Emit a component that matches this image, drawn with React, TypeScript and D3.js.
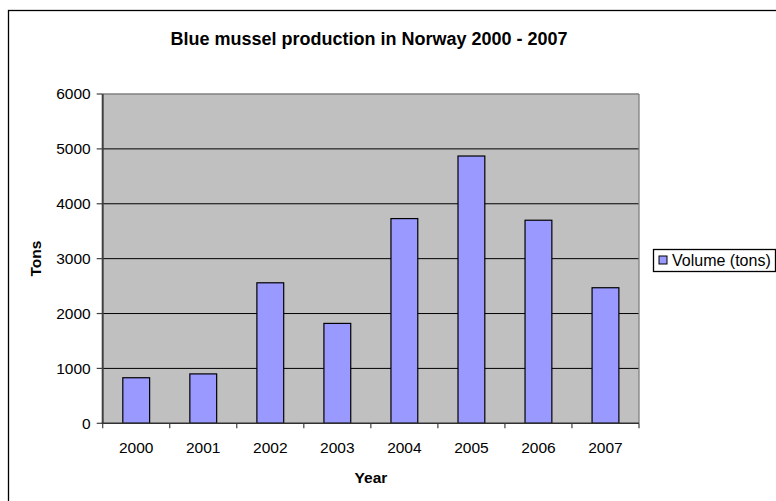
import React from "react";
import * as d3 from "d3";

const years = ["2000", "2001", "2002", "2003", "2004", "2005", "2006", "2007"];
const volume = [830, 900, 2560, 1820, 3730, 4870, 3700, 2470];
const yTicks = [0, 1000, 2000, 3000, 4000, 5000, 6000];

const W = 776;
const H = 501;
const plot = { left: 102.7, right: 639, top: 94, bottom: 423.3 };
const font = "Arial, 'Liberation Sans', Helvetica, sans-serif";

export default function App() {
  const x = d3.scaleBand<string>()
    .domain(years)
    .range([plot.left, plot.right])
    .paddingInner(0.6)
    .paddingOuter(0.3);
  const y = d3.scaleLinear().domain([0, 6000]).range([plot.bottom, plot.top]);
  const bounds = d3.scaleLinear().domain([0, years.length]).range([plot.left, plot.right]);

  return (
    <svg width={W} height={H} style={{ position: "absolute", left: 0, top: 0, background: "#fff" }}
      fontFamily={font}>
      {/* chart frame, runs past the right and bottom edges */}
      <rect x={8.5} y={10.5} width={820} height={520} fill="#fff" stroke="#000" strokeWidth={1.3} />

      <text x={369} y={45} textAnchor="middle" fontSize={18} fontWeight="bold">
        Blue mussel production in Norway 2000 - 2007
      </text>

      <rect x={plot.left} y={plot.top} width={plot.right - plot.left} height={plot.bottom - plot.top}
        fill="#c0c0c0" />
      {yTicks.slice(1, -1).map(t => (
        <line key={t} x1={plot.left} x2={plot.right} y1={y(t)} y2={y(t)} stroke="#000" strokeWidth={1} />
      ))}
      <line x1={plot.left} x2={plot.right} y1={plot.top} y2={plot.top} stroke="#808080" strokeWidth={1.3} />
      <line x1={plot.right} x2={plot.right} y1={plot.top} y2={plot.bottom} stroke="#808080" strokeWidth={1.3} />

      {volume.map((v, i) => (
        <rect key={years[i]} x={x(years[i])} y={y(v)} width={x.bandwidth()} height={y(0) - y(v)}
          fill="#9999ff" stroke="#000" strokeWidth={1.2} />
      ))}

      {/* y axis */}
      <line x1={plot.left} x2={plot.left} y1={plot.top} y2={plot.bottom} stroke="#404040" strokeWidth={2} />
      {yTicks.map(t => (
        <g key={t}>
          <line x1={plot.left - 6} x2={plot.left} y1={y(t)} y2={y(t)} stroke="#404040" strokeWidth={1.2} />
          <text x={plot.left - 12} y={y(t)} dy="0.35em" textAnchor="end" fontSize={15.5}>{t}</text>
        </g>
      ))}

      {/* x axis */}
      <line x1={plot.left - 1} x2={plot.right} y1={plot.bottom} y2={plot.bottom} stroke="#303030" strokeWidth={1.6} />
      {d3.range(years.length + 1).map(i => (
        <line key={i} x1={bounds(i)} x2={bounds(i)} y1={plot.bottom} y2={plot.bottom + 5}
          stroke="#404040" strokeWidth={1.2} />
      ))}
      {years.map(yr => (
        <text key={yr} x={(x(yr) ?? 0) + x.bandwidth() / 2} y={453} textAnchor="middle" fontSize={15.5}>{yr}</text>
      ))}

      <text x={371} y={483} textAnchor="middle" fontSize={15.5} fontWeight="bold">Year</text>
      <text transform={`translate(41,${(plot.top + plot.bottom) / 2}) rotate(-90)`} textAnchor="middle"
        fontSize={15.5} fontWeight="bold">Tons</text>

      {/* legend */}
      <rect x={653.5} y={249.5} width={122} height={22} fill="#fff" stroke="#000" strokeWidth={1.3} />
      <rect x={659} y={256} width={8} height={8} fill="#9999ff" stroke="#000" strokeWidth={1} />
      <text x={672} y={260} dy="0.35em" fontSize={16}>Volume (tons)</text>
    </svg>
  );
}
